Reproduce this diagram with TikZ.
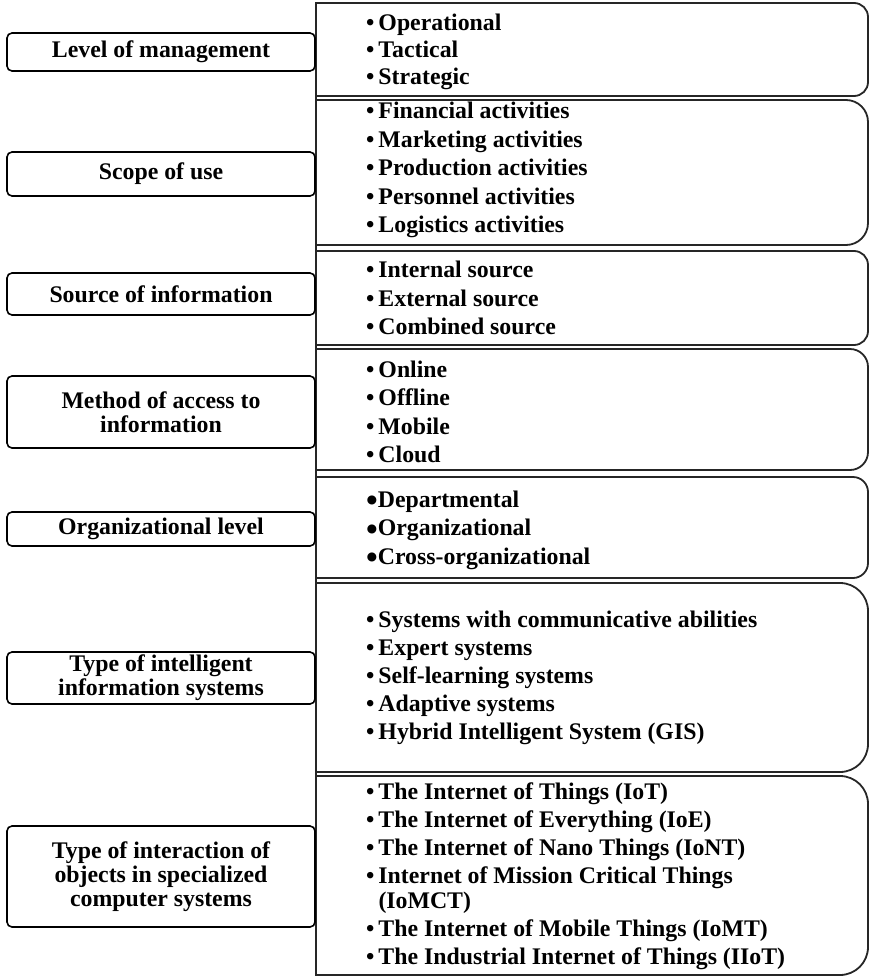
\documentclass[tikz,border=0pt]{standalone}
\usepackage{fontspec}
\setmainfont{Liberation Serif}
\tikzset{
  catlabel/.style={draw=black, line width=1.6pt, rounded corners=5pt, minimum width=308pt,
    inner sep=0pt, align=center, font=\bfseries\fontsize{23.8}{24}\selectfont},
  catitems/.style={anchor=west, inner sep=0pt, align=left,
    font=\bfseries\fontsize{23.8}{28.5}\selectfont},
  catframe/.style={draw=black!85, line width=1.8pt, line cap=rect},
}
\newcommand{\bul}{•\,}
\newcommand{\bigbul}{\smash{\raisebox{-4.6pt}{\scalebox{1.4}{•}}}}
\begin{document}
\begin{tikzpicture}[x=1pt, y=-1pt]
    \useasboundingbox (0,0) rectangle (873,977);
    % frames of the item lists
    \draw[catframe] (316,3) -- (316,975);
    \foreach \t/\b/\r in {3/96/14, 100/245/22, 251/345/14, 349/470/18, 477/578/15, 583/772/28, 776/975/28}
        \draw[catframe, rounded corners=\r pt] (316,\t) -- (868,\t) -- (868,\b) -- (316,\b);

    % categories
    \node[catlabel, minimum height=38pt] (lvl) at (161,52) {Level of management};
    \node[catlabel, minimum height=44pt] (scope) at (161,174) {Scope of use};
    \node[catlabel, minimum height=42pt] (src) at (161,294) {Source of information};
    \node[catlabel, minimum height=72pt] (access) at (161,412) {Method of access to\\information};
    \node[catlabel, minimum height=34pt] (org) at (161,529) {Organizational level};
    \node[catlabel, minimum height=52pt] (intel) at (161,678) {Type of intelligent\\information systems};
    \node[catlabel, minimum height=101pt] (inter) at (161,876.5) {Type of interaction of\\objects in specialized\\computer systems};

    % items
    \node[catitems, font=\bfseries\fontsize{23.8}{27}\selectfont] (lvlitems) at (366,52)
        {\bul Operational\\ \bul Tactical\\ \bul Strategic};
    \node[catitems] (scopeitems) at (366,170)
        {\bul Financial activities\\ \bul Marketing activities\\ \bul Production activities\\
         \bul Personnel activities\\ \bul Logistics activities};
    \node[catitems] (srcitems) at (366,298)
        {\bul Internal source\\ \bul External source\\ \bul Combined source};
    \node[catitems] (accessitems) at (366,412)
        {\bul Online\\ \bul Offline\\ \bul Mobile\\ \bul Cloud};
    \node[catitems] (orgitems) at (366,530)
        {\bigbul Departmental\\ \bigbul Organizational\\ \bigbul Cross-organizational};
    \node[catitems, font=\bfseries\fontsize{23.8}{28}\selectfont] (intelitems) at (366,678)
        {\bul Systems with communicative abilities\\ \bul Expert systems\\ \bul Self-learning systems\\
         \bul Adaptive systems\\ \bul Hybrid Intelligent System (GIS)};
    \node[catitems, font=\bfseries\fontsize{23.8}{28}\selectfont] (interitems) at (366,876.5)
        {\bul The Internet of Things (IoT)\\ \bul The Internet of Everything (IoE)\\
         \bul The Internet of Nano Things (IoNT)\\ \bul Internet of Mission Critical Things\\[-3pt]
         \phantom{\bul}(IoMCT)\\ \bul The Internet of Mobile Things (IoMT)\\
         \bul The Industrial Internet of Things (IIoT)};
\end{tikzpicture}
\end{document}
